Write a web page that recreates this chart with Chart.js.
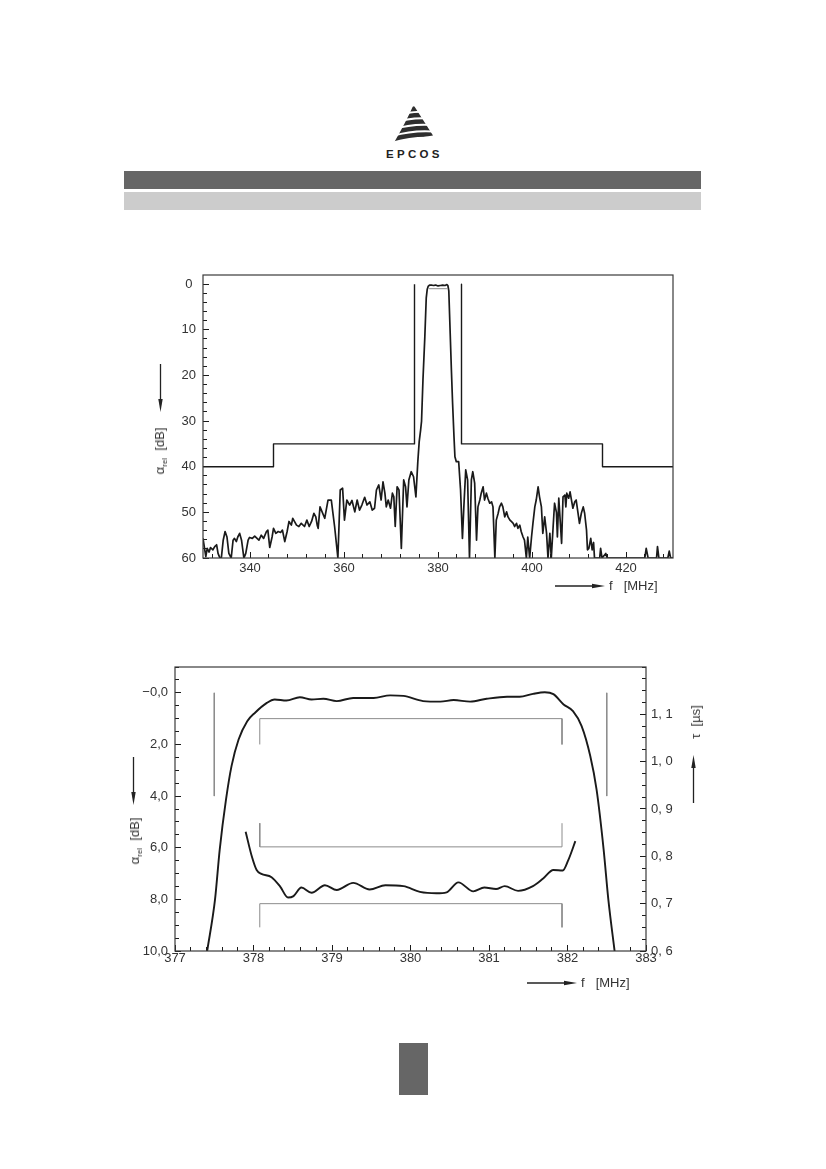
<!DOCTYPE html>
<html>
<head>
<meta charset="utf-8">
<title>EPCOS SAW filter 380 MHz</title>
<script src="https://cdn.jsdelivr.net/npm/chart.js@4.4.1/dist/chart.umd.min.js"></script>
<style>
  html, body { margin: 0; padding: 0; background: #fff; }
  #page { position: relative; width: 826px; height: 1169px; overflow: hidden;
          font-family: "Liberation Sans", Arial, sans-serif; color: #333; }
  .abs { position: absolute; }
  canvas { position: absolute; }
  #logoText { left: 386px; top: 148px; font-weight: bold; font-size: 11.5px; line-height: 12px;
              letter-spacing: 3.3px; color: #222; }
  .bar { left: 124px; width: 577px; height: 18px; }
  .dark { top: 171px; background: #666; }
  .light { top: 192px; background: #ccc; }
  #pageNo { left: 399px; top: 1043px; width: 29px; height: 52px; background: #666; }
  .rot { transform: translate(-50%, -50%) rotate(-90deg); white-space: nowrap; font-size: 13px; line-height: 16px; }
  .xt { font-size: 13px; line-height: 16px; white-space: nowrap; }
  sub { font-size: 8px; line-height: 0; vertical-align: -3px; }
</style>
</head>
<body>
<div id="page">
  <svg class="abs" style="left:0;top:0" width="826" height="1169">
    <defs>
      <clipPath id="sail"><path d="M413.5 105 L433 135.5 Q414 138 393.5 143.5 Q406 122 413.5 105 Z"/></clipPath>
    </defs>
    <g clip-path="url(#sail)" fill="none" stroke="#2e2e2e" stroke-width="4.6">
      <path d="M400 112 Q413 106.5 428 110"/>
      <path d="M392 120.5 Q412 112.5 436 116"/>
      <path d="M390 127.5 Q412 119 438 122.5"/>
      <path d="M388 134.5 Q412 125.5 440 129"/>
      <path d="M386 141.5 Q412 132 442 135.5"/>
    </g>
    <!-- axis arrows -->
    <g stroke="#222" stroke-width="1.3" fill="#222">
      <line x1="160.5" y1="364" x2="160.5" y2="401"/>
      <polygon stroke="none" points="158.3,399 162.7,399 160.5,412"/>
      <line x1="555" y1="586" x2="594" y2="586"/>
      <polygon stroke="none" points="592,583.8 592,588.2 605,586"/>
      <line x1="133.5" y1="757" x2="133.5" y2="794"/>
      <polygon stroke="none" points="131.3,792 135.7,792 133.5,805"/>
      <line x1="527" y1="983" x2="566" y2="983"/>
      <polygon stroke="none" points="564,980.8 564,985.2 577,983"/>
      <line x1="693.5" y1="803" x2="693.5" y2="766"/>
      <polygon stroke="none" points="691.3,768 695.7,768 693.5,755"/>
    </g>
  </svg>
  <div class="abs" id="logoText">EPCOS</div>
  <div class="abs bar dark"></div>
  <div class="abs bar light"></div>

  <canvas id="wideChart" width="560" height="334" style="left:130px;top:253px;width:560px;height:334px"></canvas>
  <canvas id="passChart" width="605" height="340" style="left:105px;top:645px;width:605px;height:340px"></canvas>

  <div class="abs rot" style="left:160px;top:451px">α<sub>rel</sub>&nbsp;&nbsp;[dB]</div>
  <div class="abs xt" style="left:609px;top:578px">f<span style="margin-left:11px">[MHz]</span></div>
  <div class="abs rot" style="left:135px;top:841px">α<sub>rel</sub>&nbsp;&nbsp;[dB]</div>
  <div class="abs xt" style="left:581px;top:975px">f<span style="margin-left:11px">[MHz]</span></div>
  <div class="abs rot" style="left:696px;top:722px">τ&nbsp;&nbsp;[µs]</div>

  <div class="abs" id="pageNo"></div>
</div>

<script>
// ===== STYLE =====
const FONT = "'Liberation Sans', Arial, sans-serif";
const INK = '#1a1a1a';
const TEXT = '#333';
const GREY = '#8c8c8c';

// ===== DATA: WIDEBAND RESPONSE (330..430 MHz) =====
const wideF = [
  330.0, 330.6, 330.9, 331.3, 331.6, 332.1, 332.5, 332.9, 333.2, 333.6, 333.9, 334.3, 334.7, 335.1, 335.5,
  336.0, 336.4, 336.7, 337.1, 337.4, 337.8, 338.2, 338.7, 339.1, 339.6, 339.9, 340.5, 341.0, 341.5, 341.9,
  342.4, 342.9, 343.5, 343.8, 344.2, 344.7, 345.0, 345.5, 346.0, 346.5, 346.9, 347.4, 347.9, 348.3, 348.8,
  349.1, 349.9, 350.4, 350.9, 351.6, 352.1, 352.6, 353.1, 353.6, 354.0, 354.3, 354.5, 354.9, 355.9, 356.6,
  357.3, 358.0, 358.7, 359.2, 359.7, 360.1, 360.6, 361.2, 361.7, 362.3, 362.8, 363.3, 363.8, 364.4, 364.9,
  365.5, 366.0, 366.5, 366.9, 367.4, 367.9, 368.3, 368.7, 369.0, 369.4, 369.9, 370.3, 370.6, 370.9, 371.3,
  371.7, 372.2, 372.7, 373.1, 373.4, 373.8, 374.3, 374.8, 375.3, 375.7, 376.0, 376.3, 376.5, 376.8, 377.2,
  377.5, 377.7, 377.9, 378.2, 378.6, 379.0, 379.5, 380.0, 380.5, 381.0, 381.5, 381.9, 382.1, 382.3, 382.5,
  382.85, 383.1, 383.4, 383.6, 383.9, 384.4, 384.8, 385.2, 385.5, 385.9, 386.3, 386.7, 387.1, 387.4, 387.8,
  388.2, 388.5, 388.9, 389.2, 389.6, 389.9, 390.3, 390.6, 391.0, 391.4, 391.7, 392.1, 392.4, 392.8, 393.1,
  393.5, 393.8, 394.2, 394.6, 394.9, 395.3, 395.6, 396.0, 396.3, 396.7, 397.0, 397.4, 397.7, 398.1, 398.4,
  398.8, 399.1, 399.5, 399.9, 400.2, 400.6, 400.9, 401.3, 401.6, 402.0, 402.3, 402.7, 403.1, 403.4, 403.8,
  404.1, 404.5, 404.8, 405.2, 405.4, 405.7, 405.9, 406.3, 406.6, 407.0, 407.2, 407.4, 407.8, 408.1, 408.4,
  408.7, 409.1, 409.4, 409.8, 410.1, 410.5, 410.9, 411.2, 411.6, 411.8, 412.1, 412.5, 412.8, 413.1, 413.3,
  414.4, 414.6, 414.9, 415.7, 416.0, 424.0, 424.3, 424.7, 426.5, 426.7, 427.0, 428.9, 429.2, 429.5, 430.0
];
const wideAtt = [
  55.7, 59.7, 57.9, 58.7, 57.7, 58.2, 57.5, 57.1, 59.0, 60.0, 60.0, 56.1, 54.2, 55.4, 59.0,
  60.0, 56.1, 55.7, 56.4, 55.4, 54.6, 56.1, 60.0, 59.0, 56.1, 55.5, 55.7, 55.2, 55.7, 56.1,
  55.0, 55.7, 54.2, 53.9, 57.7, 55.4, 53.5, 54.6, 54.2, 54.4, 53.9, 56.4, 54.2, 52.0, 52.8,
  51.3, 52.8, 53.1, 52.4, 53.1, 51.7, 53.1, 52.0, 50.2, 51.0, 52.8, 53.5, 48.8, 51.3, 47.3,
  47.3, 53.1, 60.0, 45.1, 44.7, 51.7, 47.3, 48.4, 47.4, 49.9, 47.3, 49.5, 48.4, 46.7, 48.4,
  47.7, 49.5, 49.1, 45.1, 44.0, 47.3, 43.3, 45.8, 48.8, 47.3, 49.1, 45.8, 46.6, 53.1, 44.4,
  45.1, 57.9, 42.9, 44.4, 48.8, 42.9, 41.1, 42.2, 46.6, 39.0, 34.5, 32.0, 30.0, 21.0, 11.5,
  3.0, 1.2, 0.5, 0.2, 0.2, 0.3, 0.2, 0.4, 0.3, 0.2, 0.3, 0.1, 0.3, 1.5, 7.8,
  18.8, 26.0, 33.4, 37.8, 38.9, 38.9, 45.1, 55.7, 48.8, 40.7, 42.9, 60.0, 42.9, 41.1, 43.6,
  56.1, 48.8, 47.3, 45.8, 44.4, 47.3, 45.8, 46.9, 48.0, 47.7, 48.8, 60.0, 51.7, 50.2, 48.8,
  48.0, 48.8, 51.0, 49.9, 51.0, 51.7, 52.0, 52.4, 53.1, 52.4, 53.5, 52.8, 54.2, 55.4, 56.1,
  60.0, 55.4, 60.0, 55.4, 52.4, 48.8, 47.3, 44.4, 46.6, 48.8, 54.6, 51.0, 54.6, 60.0, 54.6,
  60.0, 53.1, 48.0, 50.0, 55.4, 46.9, 50.2, 56.8, 46.6, 46.2, 48.8, 45.8, 46.9, 45.5, 47.3,
  49.1, 47.7, 47.3, 50.2, 52.4, 50.2, 48.8, 50.2, 53.9, 58.2, 57.9, 55.7, 58.2, 56.6, 60.0,
  60.0, 57.9, 60.0, 59.0, 60.0, 60.0, 57.9, 60.0, 60.0, 57.5, 60.0, 60.0, 58.5, 60.0, 60.0
];
const maskLoF = [330, 345, 345, 375, 375];
const maskLoAtt = [40, 40, 35, 35, 0];
const maskHiF = [385, 385, 415, 415, 430];
const maskHiAtt = [0, 35, 35, 40, 40];
const wideBandF = [378.1, 381.9];
const wideBandAtt = [1.0, 1.0];
const wideXTicks = [340, 360, 380, 400, 420];
const wideYTicks = [0, 10, 20, 30, 40, 50, 60];

// ===== DATA: PASSBAND DETAIL (377..383 MHz) =====
const passF = [
  377.41, 377.51, 377.57, 377.65, 377.72, 377.81, 377.92, 378.02, 378.17, 378.27, 378.42, 378.59, 378.74,
  378.89, 379.06, 379.27, 379.53, 379.74, 379.91, 380.16, 380.38, 380.55, 380.76, 380.97, 381.23, 381.39,
  381.56, 381.71, 381.82, 381.95, 382.07, 382.18, 382.29, 382.37, 382.46, 382.52, 382.60
];
const passAtt = [
  10.0, 8.0, 6.06, 4.13, 2.84, 1.81, 1.10, 0.77, 0.39, 0.26, 0.30, 0.17, 0.26,
  0.23, 0.32, 0.20, 0.20, 0.10, 0.12, 0.32, 0.34, 0.28, 0.34, 0.23, 0.15, 0.15,
  0.04, -0.02, 0.05, 0.45, 0.71, 1.29, 2.45, 3.74, 6.06, 8.0, 10.0
];
const delayF = [
  377.90, 377.98, 378.04, 378.10, 378.23, 378.34, 378.44, 378.51, 378.61, 378.74, 378.91, 379.06, 379.27,
  379.48, 379.68, 379.91, 380.12, 380.33, 380.46, 380.61, 380.80, 380.94, 381.09, 381.20, 381.37, 381.56,
  381.69, 381.82, 381.94, 382.01, 382.10
];
const delayUs = [
  0.852, 0.799, 0.771, 0.763, 0.756, 0.736, 0.713, 0.716, 0.734, 0.723, 0.739, 0.729, 0.744,
  0.730, 0.739, 0.737, 0.725, 0.722, 0.724, 0.745, 0.726, 0.734, 0.731, 0.737, 0.727, 0.737,
  0.753, 0.771, 0.770, 0.792, 0.832
];
const edgeLoF = [377.5, 377.5];
const edgeHiF = [382.5, 382.5];
const edgeAtt = [0, 4.0];
const bracketF = [378.08, 378.08, 381.93, 381.93];
const rippleAtt = [2.0, 1.0, 1.0, 2.0];
const delayMaxUs = [0.87, 0.82, 0.82, 0.87];
const delayMinUs = [0.65, 0.70, 0.70, 0.65];
const passXTicks = [377, 378, 379, 380, 381, 382, 383];
const passYTicks = [0, 2, 4, 6, 8, 10];
const passTauTicks = [0.6, 0.7, 0.8, 0.9, 1.0, 1.1];

// ===== HELPERS =====
function pts(xs, ys) {
  return xs.map((x, i) => ({ x: x, y: ys[i] }));
}

function steps(from, to, step) {
  const out = [];
  const n = Math.round((to - from) / step);
  for (let i = 0; i <= n; i++) out.push(+(from + i * step).toFixed(4));
  return out;
}

function line(data, axis, color, width, smooth) {
  return {
    data: data, xAxisID: 'x', yAxisID: axis,
    borderColor: color, borderWidth: width,
    pointRadius: 0, fill: false, borderJoinStyle: 'round',
    tension: smooth ? 0.4 : 0,
    cubicInterpolationMode: smooth ? 'monotone' : 'default'
  };
}

// axis with labels and long inner ticks
function majorAxis(pos, min, max, list, size, pad, fmt) {
  return {
    type: 'linear', position: pos, weight: 1, min: min, max: max,
    afterBuildTicks: s => { s.ticks = list.map(v => ({ value: v })); },
    afterFit: s => { if (pos === 'bottom') s.height = size; else s.width = size; },
    grid: { drawOnChartArea: false, drawTicks: true, tickLength: -6, tickColor: INK, tickWidth: 1 },
    border: { display: false },
    ticks: { padding: pad, color: TEXT, font: { family: FONT, size: 13 },
             autoSkip: false, maxRotation: 0, callback: fmt }
  };
}

// zero-size axis that only draws the short inner ticks
function minorAxis(pos, min, max, list) {
  return {
    type: 'linear', position: pos, weight: 0, min: min, max: max,
    afterBuildTicks: s => { s.ticks = list.map(v => ({ value: v })); },
    afterFit: s => { if (pos === 'bottom') s.height = 0; else s.width = 0; },
    grid: { drawOnChartArea: false, drawTicks: true, tickLength: -4, tickColor: INK, tickWidth: 1 },
    border: { display: false },
    ticks: { display: false }
  };
}

const framePlugin = {
  id: 'frame',
  afterDatasetsDraw(chart) {
    const { ctx, chartArea: a } = chart;
    ctx.save();
    ctx.strokeStyle = '#3a3a3a';
    ctx.lineWidth = 1.2;
    ctx.strokeRect(a.left, a.top, a.right - a.left, a.bottom - a.top);
    ctx.restore();
  }
};

const baseOptions = {
  responsive: false, animation: false, events: [],
  plugins: { legend: { display: false }, tooltip: { enabled: false } }
};

// ===== CHART 1: WIDEBAND =====
const wideY = majorAxis('left', -2, 60, wideYTicks, 73, 13, v => String(v));
wideY.reverse = true;
wideY.ticks.crossAlign = 'center';
const wideYm = minorAxis('left', -2, 60, steps(0, 60, 2));
wideYm.reverse = true;

new Chart(document.getElementById('wideChart'), {
  type: 'line',
  data: {
    datasets: [
      line(pts(wideF, wideAtt), 'y', INK, 1.7, false),
      line(pts(maskLoF, maskLoAtt), 'y', INK, 1.4, false),
      line(pts(maskHiF, maskHiAtt), 'y', INK, 1.4, false),
      line(pts(wideBandF, wideBandAtt), 'y', GREY, 1, false)
    ]
  },
  options: Object.assign({}, baseOptions, {
    layout: { padding: { top: 22, right: 17, left: 0, bottom: 0 } },
    scales: {
      x: majorAxis('bottom', 330, 430, wideXTicks, 29, 9, v => String(v)),
      xm: minorAxis('bottom', 330, 430, steps(332, 428, 4)),
      y: wideY,
      ym: wideYm
    }
  }),
  plugins: [framePlugin]
});

// ===== CHART 2: PASSBAND =====
const passY = majorAxis('left', -1, 10, passYTicks, 70, 13,
  v => (v === 0 ? '\u22120,0' : v.toFixed(1).replace('.', ',')));
passY.reverse = true;
const passYm = minorAxis('left', -1, 10, steps(-1, 10, 0.5));
passYm.reverse = true;

new Chart(document.getElementById('passChart'), {
  type: 'line',
  data: {
    datasets: [
      line(pts(passF, passAtt), 'y', INK, 1.9, true),
      line(pts(delayF, delayUs), 'yr', INK, 1.9, true),
      line(pts(edgeLoF, edgeAtt), 'y', GREY, 1, false),
      line(pts(edgeHiF, edgeAtt), 'y', GREY, 1, false),
      line(pts(bracketF, rippleAtt), 'y', GREY, 1, false),
      line(pts(bracketF, delayMaxUs), 'yr', GREY, 1, false),
      line(pts(bracketF, delayMinUs), 'yr', GREY, 1, false)
    ]
  },
  options: Object.assign({}, baseOptions, {
    layout: { padding: { top: 22, right: 0, left: 0, bottom: 0 } },
    scales: {
      x: majorAxis('bottom', 377, 383, passXTicks, 34, 6, v => String(v)),
      xm: minorAxis('bottom', 377, 383, steps(377, 383, 0.2)),
      y: passY,
      ym: passYm,
      yr: majorAxis('right', 0.6, 1.2, passTauTicks, 64, 11, v => v.toFixed(1).replace('.', ', ')),
      yrm: minorAxis('right', 0.6, 1.2, steps(0.6, 1.2, 0.025))
    }
  }),
  plugins: [framePlugin]
});
</script>
</body>
</html>
